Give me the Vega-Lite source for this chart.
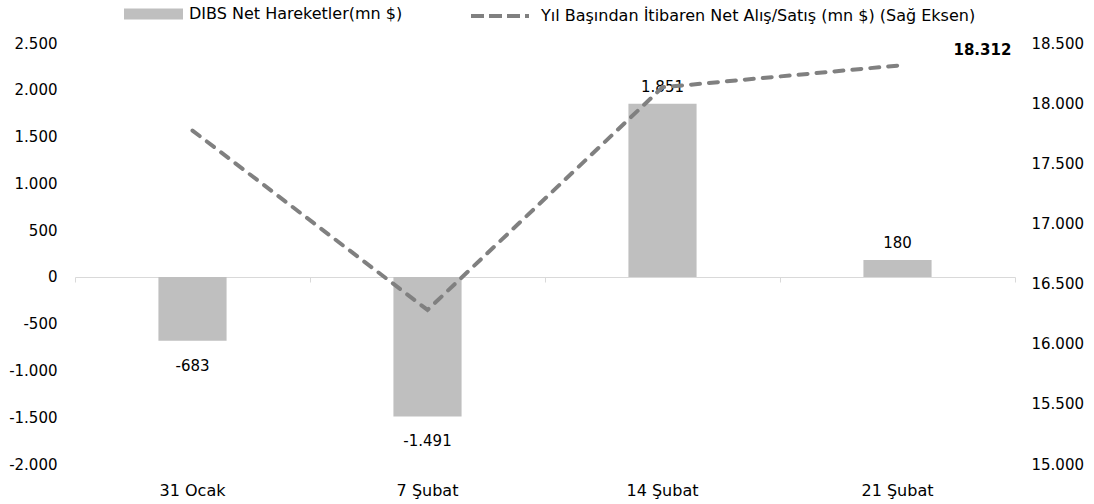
{
  "$schema": "https://vega.github.io/schema/vega-lite/v6.json",
  "width": 940,
  "height": 421,
  "autosize": {"type": "none"},
  "padding": {"left": 75, "top": 43, "right": 79, "bottom": 40},
  "config": {
    "view": {"stroke": null},
    "font": "DejaVu Sans",
    "locale": {"number": {"decimal": ",", "thousands": ".", "grouping": [3], "currency": ["", "$"], "minus": "-"}},
    "axis": {"labelFont": "DejaVu Sans", "labelFontSize": 15, "labelColor": "#000000", "grid": false, "title": null},
    "legend": {"labelFont": "DejaVu Sans", "labelFontSize": 16, "labelColor": "#000000", "padding": 0, "title": null, "labelLimit": 800}
  },
  "data": {
    "values": [
      {"tarih": "31 Ocak", "net": -683, "kumulatif": 17772},
      {"tarih": "7 Şubat", "net": -1491, "kumulatif": 16281},
      {"tarih": "14 Şubat", "net": 1851, "kumulatif": 18132},
      {"tarih": "21 Şubat", "net": 180, "kumulatif": 18312}
    ]
  },
  "encoding": {
    "x": {
      "field": "tarih",
      "type": "nominal",
      "sort": null,
      "scale": {"paddingInner": 0, "paddingOuter": 0},
      "axis": {
        "orient": "bottom",
        "offset": -187,
        "labelAngle": 0,
        "labelFontSize": 16,
        "domainColor": "#d9d9d9",
        "tickColor": "#d9d9d9",
        "tickSize": 5,
        "bandPosition": 1,
        "tickExtra": true,
        "labelPadding": 200,
        "labelBaseline": "top"
      }
    }
  },
  "layer": [
    {
      "layer": [
        {
          "mark": {"type": "bar", "width": {"band": 0.29}},
          "encoding": {
            "y": {
              "field": "net",
              "type": "quantitative",
              "scale": {"domain": [-2000, 2500], "nice": false, "zero": false},
              "axis": {
                "orient": "left",
                "values": [-2000, -1500, -1000, -500, 0, 500, 1000, 1500, 2000, 2500],
                "format": ",d",
                "domain": false,
                "ticks": false,
                "tickSize": 0,
                "labelPadding": 18
              }
            },
            "fill": {
              "datum": "DIBS Net Hareketler(mn $)",
              "type": "nominal",
              "scale": {"range": ["#bfbfbf"]},
              "legend": {
                "orient": "none",
                "legendX": 49,
                "legendY": -58.5,
                "symbolType": "M-1,-0.1864H1V0.1864H-1Z",
                "symbolSize": 3481,
                "symbolStrokeWidth": 0,
                "symbolOpacity": 1,
                "labelOffset": 6
              }
            }
          }
        },
        {
          "transform": [{"filter": "datum.net >= 0"}],
          "mark": {"type": "text", "baseline": "middle", "dy": -17, "fontSize": 15, "color": "#000000"},
          "encoding": {
            "y": {"field": "net", "type": "quantitative"},
            "text": {"field": "net", "type": "quantitative", "format": ",d"}
          }
        },
        {
          "transform": [{"filter": "datum.net < 0"}],
          "mark": {"type": "text", "baseline": "middle", "dy": 25, "fontSize": 15, "color": "#000000"},
          "encoding": {
            "y": {"field": "net", "type": "quantitative"},
            "text": {"field": "net", "type": "quantitative", "format": ",d"}
          }
        }
      ]
    },
    {
      "layer": [
        {
          "mark": {"type": "line", "strokeWidth": 4, "strokeDash": [9, 9], "strokeCap": "round"},
          "encoding": {
            "y": {
              "field": "kumulatif",
              "type": "quantitative",
              "scale": {"domain": [15000, 18500], "nice": false, "zero": false},
              "axis": {
                "orient": "right",
                "values": [15000, 15500, 16000, 16500, 17000, 17500, 18000, 18500],
                "format": ",d",
                "domain": false,
                "ticks": false,
                "tickSize": 0,
                "labelPadding": 16
              }
            },
            "stroke": {
              "datum": "Yıl Başından İtibaren Net Alış/Satış (mn $) (Sağ Eksen)",
              "type": "nominal",
              "scale": {"range": ["#808080"]},
              "legend": {
                "orient": "none",
                "legendX": 394,
                "legendY": -58,
                "symbolType": "stroke",
                "symbolSize": 3364,
                "symbolStrokeWidth": 4,
                "symbolDash": [13, 5],
                "labelOffset": 10
              }
            }
          }
        },
        {
          "transform": [{"filter": "datum.tarih == '21 Şubat'"}],
          "mark": {"type": "text", "align": "left", "baseline": "middle", "dx": 56, "dy": -16, "fontSize": 15, "fontWeight": "bold", "color": "#000000"},
          "encoding": {
            "y": {"field": "kumulatif", "type": "quantitative"},
            "text": {"field": "kumulatif", "type": "quantitative", "format": ",d"}
          }
        }
      ]
    }
  ],
  "resolve": {"scale": {"y": "independent"}}
}
